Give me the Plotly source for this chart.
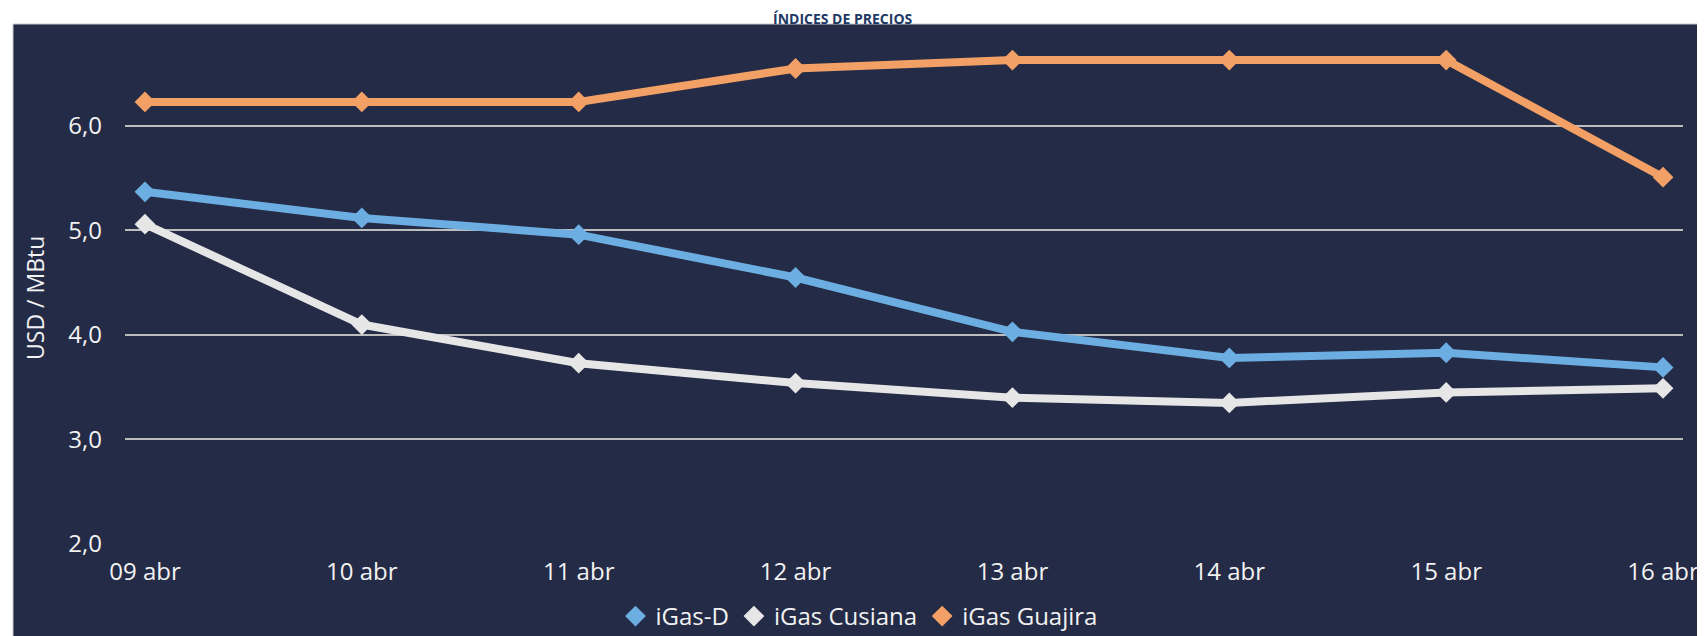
import plotly.graph_objects as go

categories = ["09 abr", "10 abr", "11 abr", "12 abr", "13 abr", "14 abr", "15 abr", "16 abr"]
igas_d = [5.37, 5.12, 4.96, 4.55, 4.03, 3.78, 3.83, 3.69]
igas_cusiana = [5.06, 4.10, 3.73, 3.54, 3.40, 3.35, 3.45, 3.49]
igas_guajira = [6.23, 6.23, 6.23, 6.55, 6.63, 6.63, 6.63, 5.51]
series_names = ["iGas-D", "iGas Cusiana", "iGas Guajira"]
y_ticks = [2, 3, 4, 5, 6]

colors = ["#6DAEE2", "#E6E6E6", "#F2A065"]
panel = "#242B46"
txt = "#F2F2F2"
FONT = "Open Sans"

fig = go.Figure()
series = [igas_d, igas_cusiana, igas_guajira]
for name, vals, c in zip(series_names, series, colors):
    fig.add_trace(go.Scatter(x=categories, y=vals, mode="lines", name=name,
                             line=dict(color=c, width=8), showlegend=False,
                             hoverinfo="skip"))
for name, vals, c in zip(series_names, series, colors):
    fig.add_trace(go.Scatter(x=categories, y=vals, mode="markers", name=name,
                             marker=dict(symbol="diamond", size=16, color=c,
                                         line=dict(width=0))))

# page body adds an 8px offset; layout below is in figure pixels
OFF = 8
W, H = 1705, 636
L = 125 - OFF
T = 25 - OFF
B = H - (544 - OFF)
R = W - (1683 - OFF)
pw = W - L - R
ph = H - T - B


def px_x(x):
    return (x - L) / pw


def px_y(y):
    return 1 - (y - T) / ph


fig.update_layout(
    template="none",
    width=W, height=H,
    margin=dict(l=L, r=R, t=T, b=B, autoexpand=False),
    paper_bgcolor="white",
    plot_bgcolor=panel,
    separators=",.",
    font=dict(family=FONT, color=txt, size=24),
    showlegend=True,
    legend=dict(orientation="h", x=px_x(859 - OFF), xanchor="center",
                y=px_y(594 - OFF), yanchor="top",
                font=dict(family=FONT, size=24, color=txt),
                bgcolor="rgba(0,0,0,0)", borderwidth=0,
                itemwidth=30, tracegroupgap=0),
    xaxis=dict(type="category", range=[-0.092, 7.092], showgrid=False,
               zeroline=False, showline=False, ticks="", automargin=False,
               tickfont=dict(family=FONT, size=24, color=txt),
               ticklabelstandoff=11, fixedrange=True),
    yaxis=dict(range=[2, 6.966], tickvals=y_ticks, tickformat=".1f",
               showgrid=True, gridcolor="#BDBDBD", gridwidth=2,
               zeroline=False, showline=False, ticks="", automargin=False,
               tickfont=dict(family=FONT, size=24, color=txt),
               ticklabelstandoff=22, fixedrange=True),
    shapes=[
        dict(type="rect", xref="paper", yref="paper",
             x0=px_x(13 - OFF), x1=1.2, y0=-0.5, y1=px_y(24 - OFF),
             fillcolor=panel, line=dict(color="#C8C8C8", width=1), layer="below"),
    ],
    annotations=[
        dict(text="USD / MBtu", textangle=-90, xref="paper", yref="paper",
             x=px_x(35 - OFF), y=px_y(298 - OFF), xanchor="center", yanchor="middle",
             showarrow=False, font=dict(family=FONT, size=23, color=txt)),
        dict(text="<b>ÍNDICES DE PRECIOS</b>", xref="paper", yref="paper",
             x=px_x(843 - OFF), y=px_y(0), xanchor="center", yanchor="top",
             borderpad=0, showarrow=False,
             font=dict(family=FONT, size=14, color="#203864")),
    ],
)

fig.write_html("out.html")
